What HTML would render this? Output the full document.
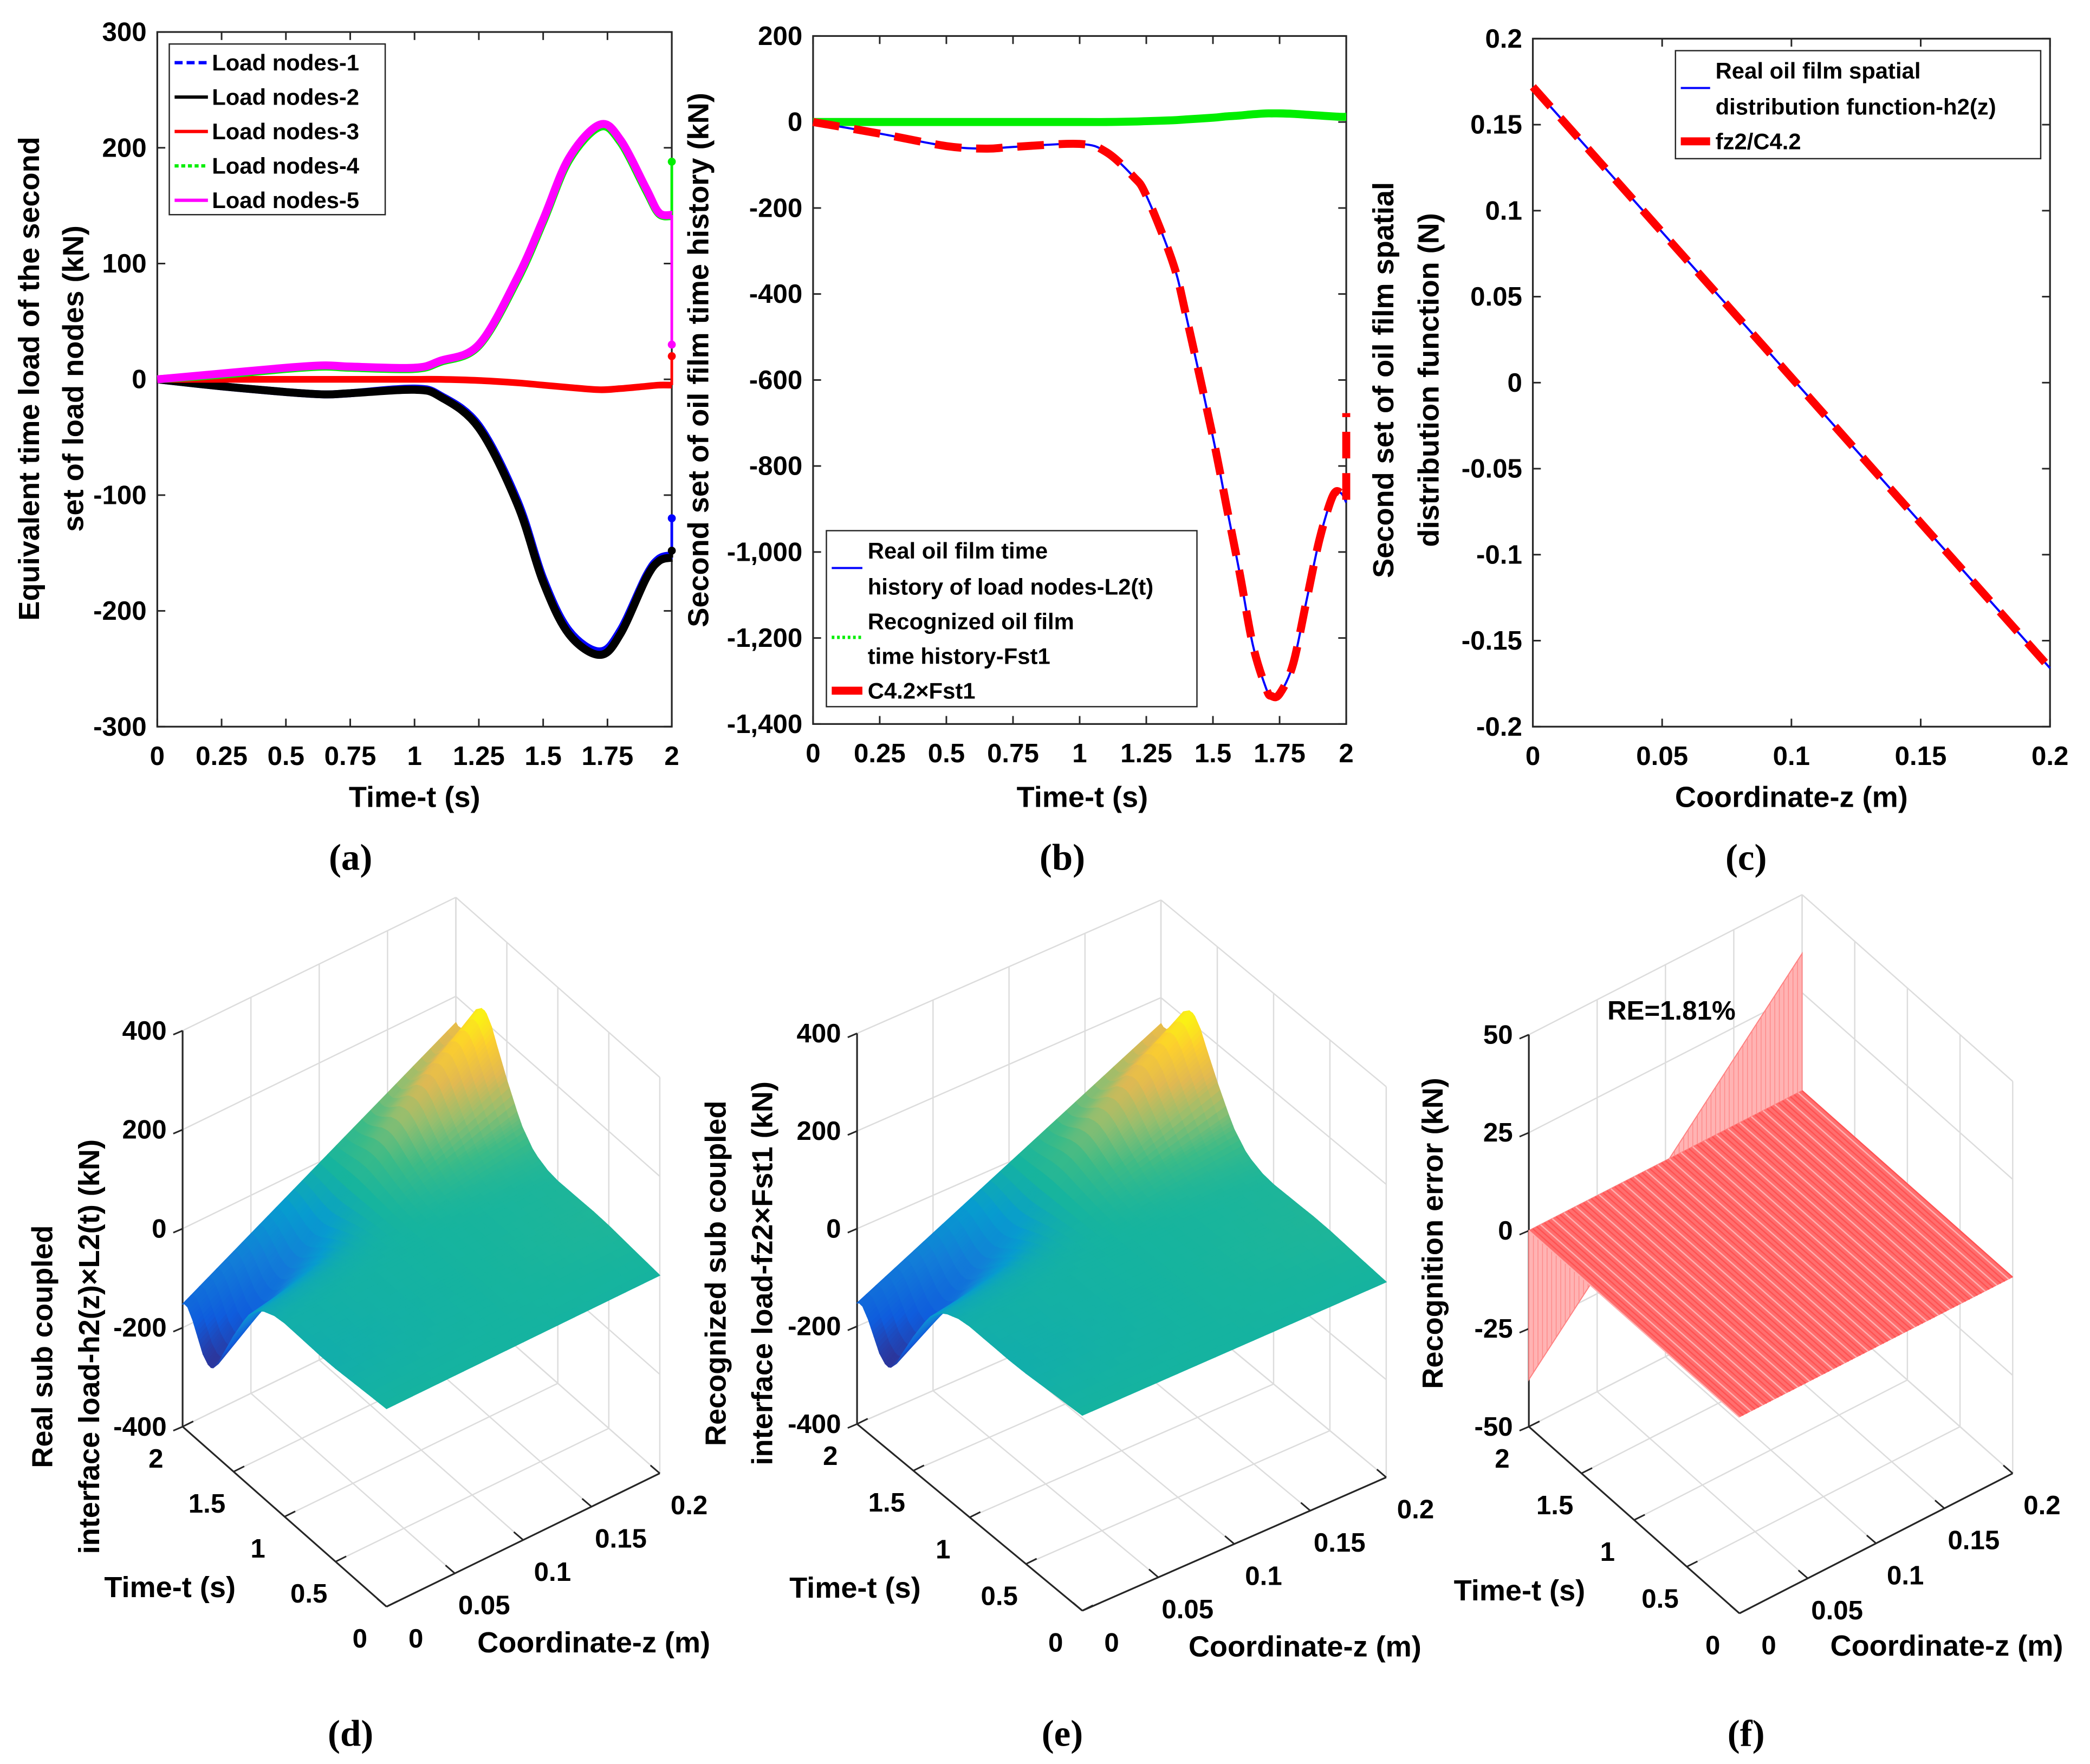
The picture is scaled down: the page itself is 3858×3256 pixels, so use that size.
<!DOCTYPE html>
<html><head><meta charset="utf-8"><style>
html,body{margin:0;padding:0;background:#fff}
svg{display:block}
text{font-family:"Liberation Sans",Arial,sans-serif}
</style></head><body>
<svg id="fig" xmlns="http://www.w3.org/2000/svg" width="3858" height="3256" viewBox="0 0 1568 1323" preserveAspectRatio="none">
<rect x="0" y="0" width="1568" height="1323" fill="#fff"/>
</svg>
<script>
// ---------- data ----------
const tA = [0,0.25,0.5,0.65,0.75,1,1.1,1.25,1.4,1.5,1.6,1.72,1.8,1.9,1.95,2];
const node1 = [0,-6,-11,-13,-12,-8,-14,-40,-105,-172,-217,-235,-217,-170,-155,-152];
const node2 = [0,-6,-11,-13,-12,-9,-15,-42,-108,-175,-220,-238,-220,-172,-157,-154];
const node3 = [0,0,0,0,0,0,0,-1,-3,-5,-7,-9,-8,-6,-5,-5];
const node4 = [0,4,9,11,10,9,15,29,86,136,189,218,205,163,143,141];
const node5 = [0,5,10,12,11,10,16,30,88,138,191,220,207,165,144,142];
const nodeEnds = [-120,-148,20,188,30];
const tickXA = ['0','0.25','0.5','0.75','1','1.25','1.5','1.75','2'];
const tickYA = ['-300','-200','-100','0','100','200','300'];

const tB = [0,0.25,0.5,0.65,0.75,1,1.1,1.2,1.25,1.35,1.4,1.5,1.55,1.6,1.65,1.7,1.72,1.75,1.8,1.85,1.9,1.95,1.98,2];
const L2 = [0,-27,-56,-62,-58,-51,-70,-126,-171,-328,-452,-733,-891,-1048,-1217,-1318,-1335,-1330,-1262,-1116,-970,-869,-863,-885];
const Fst1 = [0,0,0,0,0,0,0,1,2,4,6,10,13,15,18,20,20,20,19,17,15,13,12,12];
const C42 = [0,-27,-56,-62,-58,-51,-70,-126,-171,-328,-452,-733,-891,-1048,-1217,-1318,-1335,-1330,-1262,-1116,-970,-869,-863,-885];
const C42End = -677;
const tickYB = ['-1,400','-1,200','-1,000','-800','-600','-400','-200','0','200'];

const zC = [0,0.2];
const hC = [0.172,-0.166];
const tickXC = ['0','0.05','0.1','0.15','0.2'];
const tickYC = ['-0.2','-0.15','-0.1','-0.05','0','0.05','0.1','0.15','0.2'];

const zGrid = [0,0.025,0.05,0.075,0.1,0.125,0.15,0.175,0.2];
const hGrid = [0.172,0.1298,0.0875,0.0453,0.003,-0.0393,-0.0815,-0.1238,-0.166];
const errEdge = [-38,-29,-20,-10,-1,8,17,26,35];
const tick3T = ['0','0.5','1','1.5','2'];
const tick3Z = ['0','0.05','0.1','0.15','0.2'];
const tick3V = ['-400','-200','0','200','400'];
const tick3E = ['-50','-25','0','25','50'];

// ---------- helpers ----------
const NS='http://www.w3.org/2000/svg';
const svg=document.getElementById('fig');
function mk(tag,parent){const e=document.createElementNS(NS,tag);(parent||svg).appendChild(e);return e;}
function line(x1,y1,x2,y2,stroke,w,parent){const e=mk('line',parent);e.setAttribute('x1',x1);e.setAttribute('y1',y1);e.setAttribute('x2',x2);e.setAttribute('y2',y2);e.setAttribute('stroke',stroke);e.setAttribute('stroke-width',w);return e;}
function txt(x,y,s,size,anchor,parent,rot,family){const e=mk('text',parent);e.setAttribute('x',x);e.setAttribute('y',y);e.setAttribute('font-size',size);e.setAttribute('font-weight','bold');e.setAttribute('text-anchor',anchor||'middle');e.setAttribute('dominant-baseline','central');if(rot)e.setAttribute('transform','rotate(-90 '+x+' '+y+')');if(family)e.style.fontFamily=family;e.textContent=s;return e;}
function smoothPath(pts){let d='M'+pts[0][0]+' '+pts[0][1];for(let i=0;i<pts.length-1;i++){const p0=pts[Math.max(0,i-1)],p1=pts[i],p2=pts[i+1],p3=pts[Math.min(pts.length-1,i+2)];const c1=[p1[0]+(p2[0]-p0[0])/6,p1[1]+(p2[1]-p0[1])/6],c2=[p2[0]-(p3[0]-p1[0])/6,p2[1]-(p3[1]-p1[1])/6];d+=' C'+c1[0]+' '+c1[1]+' '+c2[0]+' '+c2[1]+' '+p2[0]+' '+p2[1];}return d;}
function pathEl(d,stroke,w,parent){const e=mk('path',parent);e.setAttribute('d',d);e.setAttribute('fill','none');e.setAttribute('stroke',stroke);e.setAttribute('stroke-width',w);e.setAttribute('stroke-linejoin','round');return e;}

function axes2D(g,x0,x1,y0,y1,xmin,xmax,ymin,ymax,xt,yt,xv,yv){
  const sx=v=>x0+(v-xmin)/(xmax-xmin)*(x1-x0);
  const sy=v=>y1-(v-ymin)/(ymax-ymin)*(y1-y0);
  const box=mk('rect',g);box.setAttribute('x',x0);box.setAttribute('y',y0);box.setAttribute('width',x1-x0);box.setAttribute('height',y1-y0);box.setAttribute('fill','none');box.setAttribute('stroke','#262626');box.setAttribute('stroke-width',1.3);
  
  
  xv.forEach((v,i)=>{const x=sx(v);line(x,y1,x,y1-6,'#262626',1.2,g);line(x,y0,x,y0+6,'#262626',1.2,g);
    const t=txt(x,y1+22,xt[i],20,'middle',g);
    
    });
  yv.forEach((v,i)=>{const y=sy(v);line(x0,y,x0+6,y,'#262626',1.2,g);line(x1,y,x1-6,y,'#262626',1.2,g);
    const t=txt(x0-8,y,yt[i],20,'end',g);
    
    });
  return {sx,sy};
}
const SERIF='"Liberation Serif", serif';

// ---------- panel (a) ----------
(function(){
  const g=mk('g');
  
  
  const ax=axes2D(g,118,504,24,545,0,2,-300,300,tickXA,tickYA,[0,0.25,0.5,0.75,1,1.25,1.5,1.75,2],[-300,-200,-100,0,100,200,300]);
  const series=[[node1,'#0000ff','6 3'],[node2,'#000000',''],[node3,'#ff0000',''],[node4,'#00ee00','3 2'],[node5,'#ff00ff','']];
  const names=['series-load-nodes-1','series-load-nodes-2','series-load-nodes-3','series-load-nodes-4','series-load-nodes-5'];
  series.forEach((s,k)=>{
    const pts=tA.map((t,i)=>[ax.sx(t),ax.sy(s[0][i])]);
    const p=pathEl(smoothPath(pts),s[1],k===2?5:6,g);
    
    
    const j=line(ax.sx(2),ax.sy(s[0][s[0].length-1]),ax.sx(2),ax.sy(nodeEnds[k]),s[1],2,g);
    
    
    const m=mk('circle',g);m.setAttribute('cx',ax.sx(2));m.setAttribute('cy',ax.sy(nodeEnds[k]));m.setAttribute('r',3);m.setAttribute('fill',s[1]);
    
    
  });
  const lg=mk('g',g);
  
  
  const r=mk('rect',lg);r.setAttribute('x',127);r.setAttribute('y',33);r.setAttribute('width',162);r.setAttribute('height',128);r.setAttribute('fill','#fff');r.setAttribute('stroke','#262626');r.setAttribute('stroke-width',1);
  const labs=['Load nodes-1','Load nodes-2','Load nodes-3','Load nodes-4','Load nodes-5'];
  series.forEach((s,k)=>{const y=47+k*25.8;const l=line(131,y,156,y,s[1],2.5,lg);if(s[2])l.setAttribute('stroke-dasharray',s[2]);
    const t=txt(159,y,labs[k],17,'start',lg);
    
    });
  const xl=txt(311,598,'Time-t (s)',22,'middle',g);
  
  
  const y1=txt(22,284,'Equivalent time load of the second',22,'middle',g,true);
  
  
  const y2=txt(55,284,'set of load nodes (kN)',22,'middle',g,true);
  
  
  const pl=txt(263,643,'(a)',28,'middle',g,false,SERIF);
  
  
})();

// ---------- panel (b) ----------
(function(){
  const g=mk('g');
  
  
  const ax=axes2D(g,610,1010,27,543,0,2,-1400,200,tickXA,tickYB,[0,0.25,0.5,0.75,1,1.25,1.5,1.75,2],[-1400,-1200,-1000,-800,-600,-400,-200,0,200]);
  const pg=pathEl(smoothPath(tB.map((t,i)=>[ax.sx(t),ax.sy(Fst1[i])])),'#00ee00',6,g);
  
  
  const pb=pathEl(smoothPath(tB.map((t,i)=>[ax.sx(t),ax.sy(L2[i])])),'#0000ff',1.6,g);
  
  
  const pts=tB.map((t,i)=>[ax.sx(t),ax.sy(C42[i])]);
  const d=smoothPath(pts)+' L'+ax.sx(2)+' '+ax.sy(C42End);
  const pr=pathEl(d,'#ff0000',6,g);pr.setAttribute('stroke-dasharray','20 11');
  
  
  const lg=mk('g',g);
  
  
  const r=mk('rect',lg);r.setAttribute('x',620);r.setAttribute('y',398);r.setAttribute('width',278);r.setAttribute('height',132);r.setAttribute('fill','#fff');r.setAttribute('stroke','#262626');r.setAttribute('stroke-width',1);
  line(624,426,647,426,'#0000ff',1.6,lg);
  const gl=line(624,478,647,478,'#00ee00',2.5,lg);gl.setAttribute('stroke-dasharray','2 2');
  line(624,518,647,518,'#ff0000',6,lg);
  [['Real oil film time',413],['history of load nodes-L2(t)',440],['Recognized oil film',466],['time history-Fst1',492],['C4.2×Fst1',518]].forEach(a=>{
    const t=txt(651,a[1],a[0],17,'start',lg);
    
    });
  const xl=txt(812,598,'Time-t (s)',22,'middle',g);
  
  
  const yl=txt(524,270,'Second set of oil film time history (kN)',22,'middle',g,true);
  
  
  const pl=txt(797,643,'(b)',28,'middle',g,false,SERIF);
  
  
})();

// ---------- panel (c) ----------
(function(){
  const g=mk('g');
  
  
  const ax=axes2D(g,1150,1538,29,545,0,0.2,-0.2,0.2,tickXC,tickYC,[0,0.05,0.1,0.15,0.2],[-0.2,-0.15,-0.1,-0.05,0,0.05,0.1,0.15,0.2]);
  const lb=line(ax.sx(zC[0]),ax.sy(hC[0]),ax.sx(zC[1]),ax.sy(hC[1]),'#0000ff',1.6,g);
  
  
  const lr=line(ax.sx(zC[0]),ax.sy(hC[0]),ax.sx(zC[1]),ax.sy(hC[1]),'#ff0000',6,g);lr.setAttribute('stroke-dasharray','20 11');
  
  
  const lg=mk('g',g);
  
  
  const r=mk('rect',lg);r.setAttribute('x',1257);r.setAttribute('y',38);r.setAttribute('width',274);r.setAttribute('height',81);r.setAttribute('fill','#fff');r.setAttribute('stroke','#262626');r.setAttribute('stroke-width',1);
  line(1261,66,1283,66,'#0000ff',1.6,lg);
  line(1261,106,1283,106,'#ff0000',6,lg);
  [['Real oil film spatial',53],['distribution function-h2(z)',80],['fz2/C4.2',106]].forEach(a=>{
    const t=txt(1287,a[1],a[0],17,'start',lg);
    
    });
  const xl=txt(1344,598,'Coordinate-z (m)',22,'middle',g);
  
  
  const y1=txt(1038,285,'Second set of oil film spatial',22,'middle',g,true);
  
  
  const y2=txt(1072,285,'distribution function (N)',22,'middle',g,true);
  
  
  const pl=txt(1310,643,'(c)',28,'middle',g,false,SERIF);
  
  
})();

// ---------- 3D panels ----------
const parula=[[0,[53,42,135]],[0.15,[15,92,221]],[0.3,[18,125,216]],[0.42,[7,156,207]],[0.52,[22,180,158]],[0.6,[60,187,135]],[0.7,[150,190,110]],[0.8,[225,185,82]],[0.9,[252,206,46]],[1,[249,251,14]]];
function cmap(u){u=Math.max(0,Math.min(1,u));for(let i=0;i<parula.length-1;i++){const a=parula[i],b=parula[i+1];if(u<=b[0]){const f=(u-a[0])/(b[0]-a[0]);const c=a[1].map((x,k)=>Math.round(x+(b[1][k]-x)*f));return 'rgb('+c.join(',')+')';}}return 'rgb(249,251,14)';}

function panel3D(cfg){
  const g=mk('g');
  
  
  const L=cfg.L,F=cfg.F,R=cfg.R,H=cfg.H;
  const P=(t,z,v)=>{const a=t/2,b=z/0.2,c=(v-cfg.vmin)/(cfg.vmax-cfg.vmin);
    return [F[0]+a*(L[0]-F[0])+b*(R[0]-F[0]), F[1]+a*(L[1]-F[1])+b*(R[1]-F[1])-c*H];};
  const grid='#dcdcdc';
  const tv=[0,0.5,1,1.5,2],zv=[0,0.05,0.1,0.15,0.2];
  const vv=[0,1,2,3,4].map(i=>cfg.vmin+i*(cfg.vmax-cfg.vmin)/4);
  vv.forEach(v=>{const a=P(2,0,v),b=P(2,0.2,v),c=P(0,0.2,v);line(a[0],a[1],b[0],b[1],grid,1,g);line(b[0],b[1],c[0],c[1],grid,1,g);});
  zv.forEach(z=>{const a=P(2,z,cfg.vmin),b=P(2,z,cfg.vmax),c=P(0,z,cfg.vmin);line(a[0],a[1],b[0],b[1],grid,1,g);line(a[0],a[1],c[0],c[1],grid,1,g);});
  tv.forEach(t=>{const a=P(t,0.2,cfg.vmin),b=P(t,0.2,cfg.vmax),c=P(t,0,cfg.vmin);line(a[0],a[1],b[0],b[1],grid,1,g);line(a[0],a[1],c[0],c[1],grid,1,g);});
  const l0=P(2,0,cfg.vmin),l1=P(2,0,cfg.vmax),f0=P(0,0,cfg.vmin),r0=P(0,0.2,cfg.vmin);
  const va=line(l0[0],l0[1],l1[0],l1[1],'#262626',1.3,g);
  
  
  const ta=line(l0[0],l0[1],f0[0],f0[1],'#262626',1.3,g);
  
  
  const za=line(f0[0],f0[1],r0[0],r0[1],'#262626',1.3,g);
  
  
  vv.forEach((v,i)=>{const p=P(2,0,v);line(p[0]-7,p[1]+3,p[0],p[1],'#262626',1.2,g);
    const t=txt(p[0]-12,p[1],cfg.vt[i],20,'end',g);
    
    });
  tv.forEach((tt,i)=>{const p=P(tt,0,cfg.vmin);line(p[0],p[1],p[0]+8,p[1]-4,'#262626',1.2,g);
    const t=txt(p[0]-20,p[1]+24,tick3T[i],20,'middle',g);
    
    });
  zv.forEach((z,i)=>{const p=P(0,z,cfg.vmin);line(p[0],p[1],p[0]-7,p[1]-6,'#262626',1.2,g);
    const t=txt(p[0]+22,p[1]+24,tick3Z[i],20,'middle',g);
    
    });
  const sg=mk('g',g);
  
  
  cfg.drawSurface(sg,P);
  const tm=P(1,0,cfg.vmin),zm=P(0,0.1,cfg.vmin);
  const xt=txt(tm[0]-86,tm[1]+53,'Time-t (s)',22,'middle',g);
  
  
  const zt=txt(zm[0]+53,zm[1]+77,'Coordinate-z (m)',22,'middle',g);
  
  
  cfg.ytitles.forEach((s,i)=>{const t=txt(cfg.ytx[i],cfg.yty,s,22,'middle',g,true);
    
    });
  const pl=txt(cfg.lab[0],cfg.lab[1],cfg.label,28,'middle',g,false,SERIF);
  
  
  return g;
}
function surfDraw(sg,P){
  const vmin=-240,vmax=225;
  const ts=[],ls=[],zs=[],hs=[];
  for(let i=0;i<tB.length-1;i++){for(let s=0;s<4;s++){const f=s/4;ts.push(tB[i]+(tB[i+1]-tB[i])*f);ls.push(L2[i]+(L2[i+1]-L2[i])*f);}}
  ts.push(tB[tB.length-1]);ls.push(L2[L2.length-1]);
  for(let j=0;j<zGrid.length-1;j++){for(let s=0;s<4;s++){const f=s/4;zs.push(zGrid[j]+(zGrid[j+1]-zGrid[j])*f);hs.push(hGrid[j]+(hGrid[j+1]-hGrid[j])*f);}}
  zs.push(zGrid[zGrid.length-1]);hs.push(hGrid[hGrid.length-1]);
  for(let i=ts.length-2;i>=0;i--)for(let j=zs.length-2;j>=0;j--){
    const vs=[ls[i]*hs[j],ls[i+1]*hs[j],ls[i+1]*hs[j+1],ls[i]*hs[j+1]];
    const pts=[P(ts[i],zs[j],vs[0]),P(ts[i+1],zs[j],vs[1]),P(ts[i+1],zs[j+1],vs[2]),P(ts[i],zs[j+1],vs[3])];
    const avg=(vs[0]+vs[1]+vs[2]+vs[3])/4;
    const c=cmap((avg-vmin)/(vmax-vmin));
    const e=mk('polygon',sg);e.setAttribute('points',pts.map(p=>p.join(',')).join(' '));e.setAttribute('fill',c);e.setAttribute('stroke',c);e.setAttribute('stroke-width',0.6);
    
    
  }
}
panel3D({name:'panel-d',L:[137,1070],F:[290,1205],R:[495,1105],H:297,vmin:-400,vmax:400,vt:tick3V,drawSurface:surfDraw,
  ytitles:['Real sub coupled','interface load-h2(z)×L2(t) (kN)'],ytx:[32,67],yty:1010,label:'(d)',lab:[263,1300]});
panel3D({name:'panel-e',L:[643,1068],F:[812,1208],R:[1040,1108],H:293,vmin:-400,vmax:400,vt:tick3V,drawSurface:surfDraw,
  ytitles:['Recognized sub coupled','interface load-fz2×Fst1 (kN)'],ytx:[537,572],yty:955,label:'(e)',lab:[797,1300]});
panel3D({name:'panel-f',L:[1147,1070],F:[1305,1210],R:[1510,1105],H:294,vmin:-50,vmax:50,vt:tick3E,
  drawSurface:function(sg,P){
    const top=zGrid.map((z,j)=>P(2,z,errEdge[j])),base=zGrid.map(z=>P(2,z,0)).reverse();
    const cur=mk('polygon',sg);cur.setAttribute('points',top.concat(base).map(p=>p.join(',')).join(' '));cur.setAttribute('fill','#ffb3b3');cur.setAttribute('stroke','#ff8080');cur.setAttribute('stroke-width',0.8);
    
    
    for(let k=0;k<=60;k++){const z=0.2*k/60,j=Math.min(7,Math.floor(z/0.025)),f=(z-zGrid[j])/0.025,v=errEdge[j]+(errEdge[j+1]-errEdge[j])*f;const a=P(2,z,0),b=P(2,z,v);line(a[0],a[1],b[0],b[1],'#ff8a8a',0.6,sg);}
    const c=[P(0,0,0),P(2,0,0),P(2,0.2,0),P(0,0.2,0)];
    const fl=mk('polygon',sg);fl.setAttribute('points',c.map(p=>p.join(',')).join(' '));fl.setAttribute('fill','#ff6e6e');
    
    
    for(let k=0;k<=70;k++){const z=0.2*k/70;const a=P(0,z,0),b=P(2,z,0);line(a[0],a[1],b[0],b[1],k%3?'#ff5252':'#ffb0b0',1,sg);}
  },
  ytitles:['Recognition error (kN)'],ytx:[1075],yty:925,label:'(f)',lab:[1310,1300]});
const re=txt(1254,758,'RE=1.81%',20,'middle');


</script>
</body></html>
